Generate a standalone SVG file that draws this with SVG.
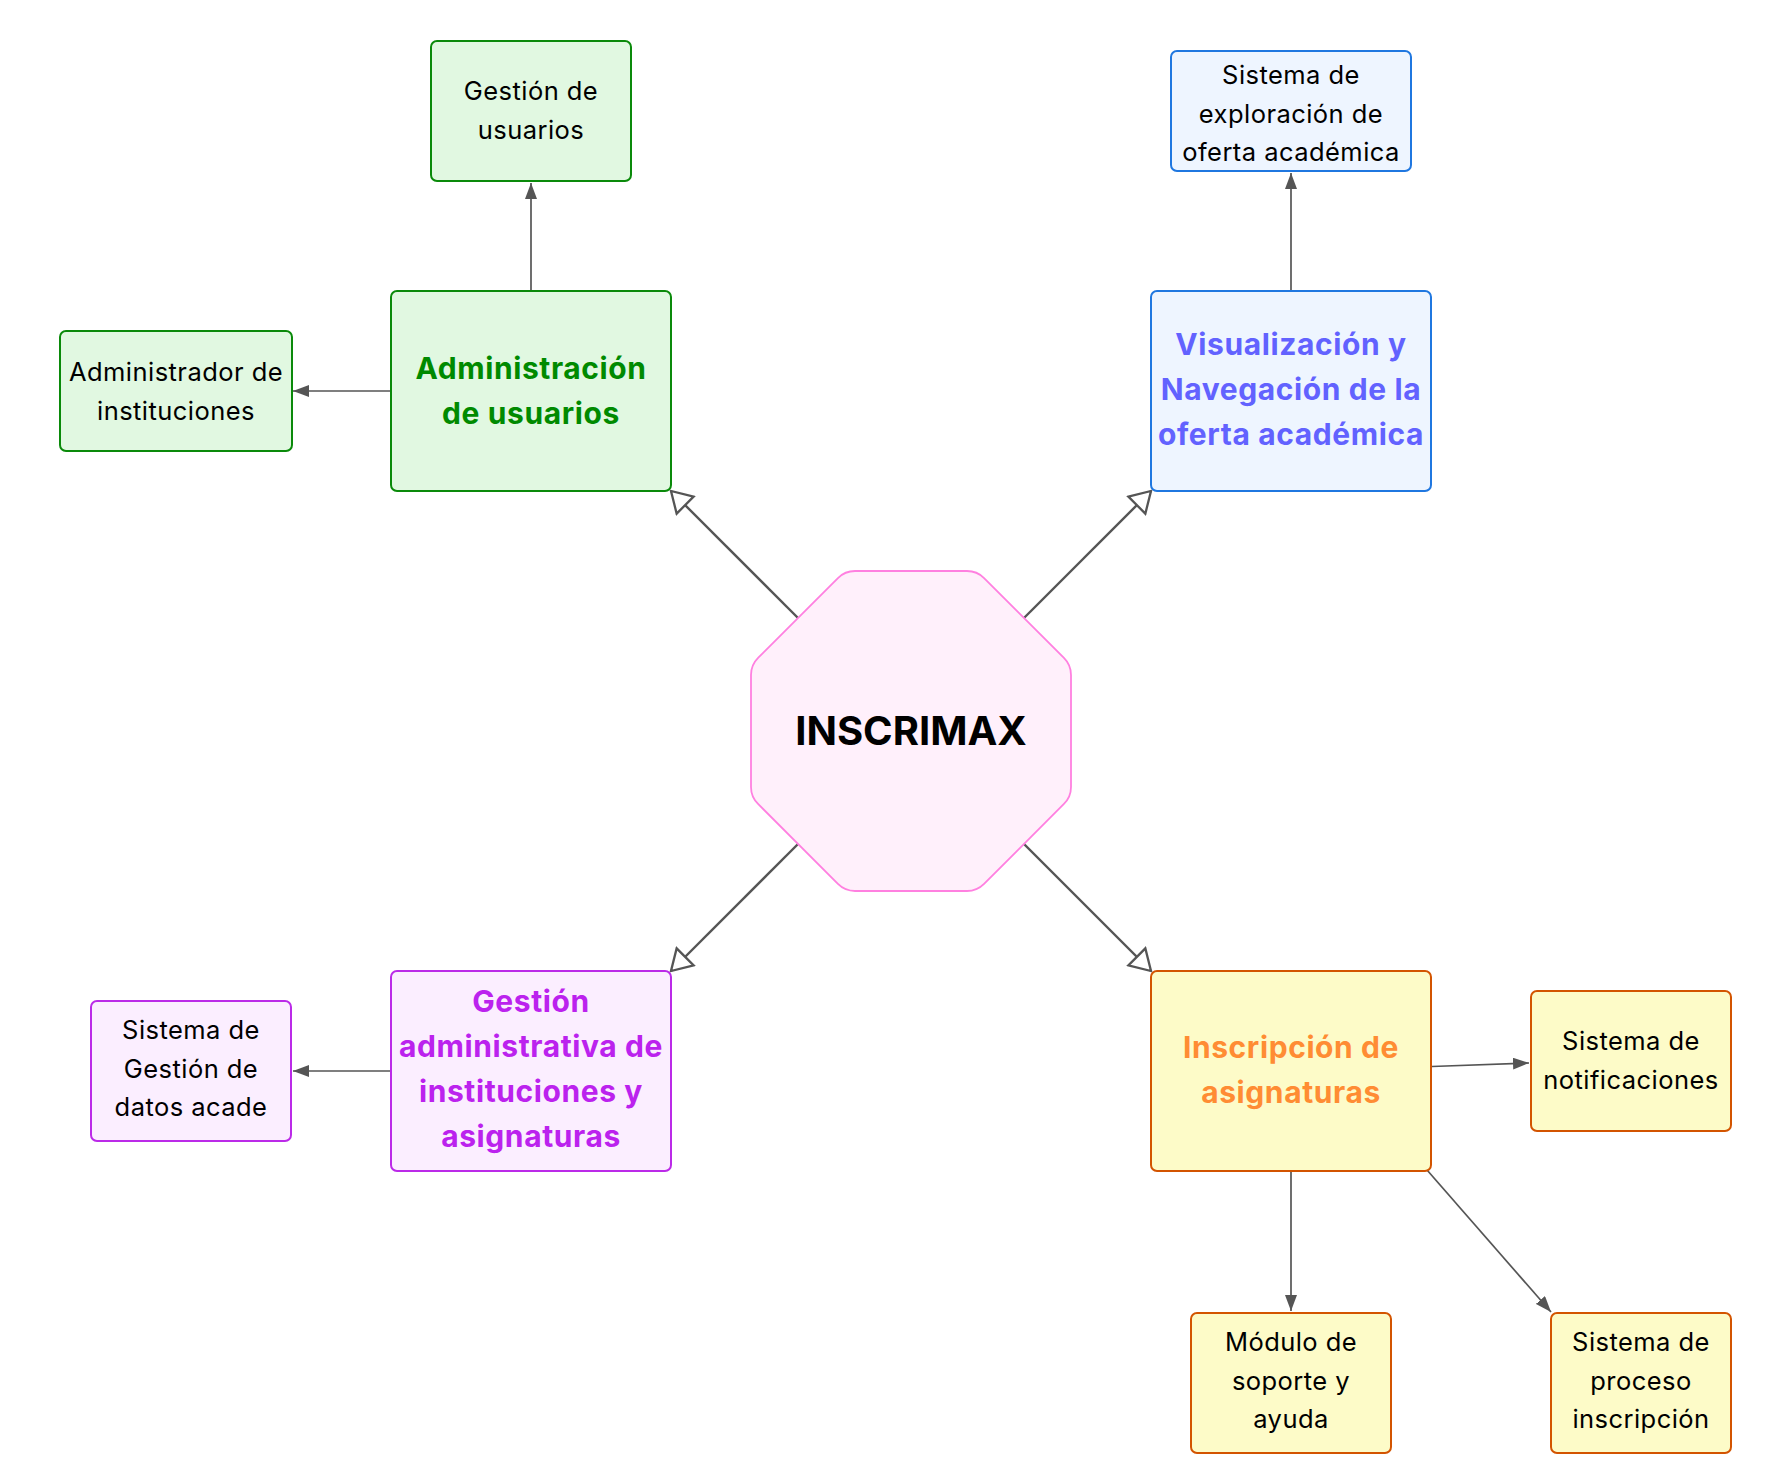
<svg xmlns="http://www.w3.org/2000/svg" width="1776" height="1484" viewBox="0 0 1776 1484">
<style>
text{font-family:Inter,"Noto Sans","Liberation Sans",sans-serif;text-anchor:middle}
.r{font-size:25.5px;letter-spacing:0.45px;fill:#000}
.b{font-size:30px;font-weight:700;letter-spacing:0.6px}
.g rect{fill:#e1f8e1;stroke:#0a8a0a;stroke-width:2}
.bl rect{fill:#eef5ff;stroke:#1f77e0;stroke-width:2}
.p rect{fill:#fbeeff;stroke:#bb2ae8;stroke-width:2}
.o rect{fill:#fdfbc8;stroke:#d35400;stroke-width:2}
.gt{fill:#008a00}.bt{fill:#6262ff}.pt{fill:#bb22ee}.ot{fill:#ff8c33}
.c line{stroke:#555;stroke-width:1.7;fill:none}
.c line.h{stroke-width:2.4;marker-end:url(#hol)}
.c line.s{marker-end:url(#sol)}
</style>
<defs>
<marker id="sol" viewBox="0 0 16 12" refX="16" refY="6" markerWidth="16" markerHeight="12" markerUnits="userSpaceOnUse" orient="auto"><path d="M0,0 L16,6 L0,12 Z" fill="#555"/></marker>
<marker id="hol" viewBox="0 0 24 28" refX="22" refY="14" markerWidth="24" markerHeight="28" markerUnits="userSpaceOnUse" orient="auto"><path d="M2,2 L22,14 L2,26 Z" fill="#fff" stroke="#555" stroke-width="2.3" stroke-linejoin="miter"/></marker>
</defs>
<rect width="1776" height="1484" fill="#fff"/>
<g class="c" id="connectors">
<line class="h" x1="798" y1="618" x2="671" y2="491"/>
<line class="h" x1="1024" y1="618" x2="1151" y2="491"/>
<line class="h" x1="798" y1="844" x2="671" y2="971"/>
<line class="h" x1="1024" y1="844" x2="1151" y2="971"/>
<line class="s" x1="531" y1="291" x2="531" y2="183"/>
<line class="s" x1="391" y1="391" x2="293" y2="391"/>
<line class="s" x1="1291" y1="291" x2="1291" y2="173"/>
<line class="s" x1="391" y1="1071" x2="293" y2="1071"/>
<line class="s" x1="1432" y1="1066.5" x2="1529" y2="1063"/>
<line class="s" x1="1291" y1="1171" x2="1291" y2="1311"/>
<line class="s" x1="1427" y1="1170" x2="1551" y2="1312"/>
</g>
<g id="inscrimax">
<path d="M855,571 L967,571 Q977,571 984.07,578.07 L1063.93,657.93 Q1071,665 1071,675 L1071,787 Q1071,797 1063.93,803.93 L984.07,883.93 Q977,891 967,891 L855,891 Q845,891 837.93,883.93 L758.07,803.93 Q751,797 751,787 L751,675 Q751,665 758.07,657.93 L837.93,578.07 Q845,571 855,571 Z" fill="#fff0fb" stroke="#ff80e0" stroke-width="1.8"/>
<text x="911" y="745" style="font-size:40px;font-weight:700;fill:#000">INSCRIMAX</text>
</g>
<g id="admin" class="g">
<rect x="391" y="291" width="280" height="200" rx="6"/>
<text class="b gt" x="531" y="379">Administración</text>
<text class="b gt" x="531" y="424">de usuarios</text>
</g>
<g id="gestion-usuarios" class="g">
<rect x="431" y="41" width="200" height="140" rx="6"/>
<text class="r" x="531" y="100">Gestión de</text>
<text class="r" x="531" y="138.5">usuarios</text>
</g>
<g id="admin-inst" class="g">
<rect x="60" y="331" width="232" height="120" rx="6"/>
<text class="r" x="176" y="381">Administrador de</text>
<text class="r" x="176" y="419.5">instituciones</text>
</g>
<g id="visualizacion" class="bl">
<rect x="1151" y="291" width="280" height="200" rx="6"/>
<text class="b bt" x="1291" y="355">Visualización y</text>
<text class="b bt" x="1291" y="400">Navegación de la</text>
<text class="b bt" x="1291" y="445">oferta académica</text>
</g>
<g id="exploracion" class="bl">
<rect x="1171" y="51" width="240" height="120" rx="6"/>
<text class="r" x="1291" y="84">Sistema de</text>
<text class="r" x="1291" y="122.5">exploración de</text>
<text class="r" x="1291" y="161">oferta académica</text>
</g>
<g id="gestion-admin" class="p">
<rect x="391" y="971" width="280" height="200" rx="6"/>
<text class="b pt" x="531" y="1012">Gestión</text>
<text class="b pt" x="531" y="1057">administrativa de</text>
<text class="b pt" x="531" y="1102">instituciones y</text>
<text class="b pt" x="531" y="1147">asignaturas</text>
</g>
<g id="datos" class="p">
<rect x="91" y="1001" width="200" height="140" rx="6"/>
<text class="r" x="191" y="1039">Sistema de</text>
<text class="r" x="191" y="1077.5">Gestión de</text>
<text class="r" x="191" y="1116">datos acade</text>
</g>
<g id="inscripcion" class="o">
<rect x="1151" y="971" width="280" height="200" rx="6"/>
<text class="b ot" x="1291" y="1058">Inscripción de</text>
<text class="b ot" x="1291" y="1103">asignaturas</text>
</g>
<g id="notificaciones" class="o">
<rect x="1531" y="991" width="200" height="140" rx="6"/>
<text class="r" x="1631" y="1050">Sistema de</text>
<text class="r" x="1631" y="1088.5">notificaciones</text>
</g>
<g id="soporte" class="o">
<rect x="1191" y="1313" width="200" height="140" rx="6"/>
<text class="r" x="1291" y="1351">Módulo de</text>
<text class="r" x="1291" y="1389.5">soporte y</text>
<text class="r" x="1291" y="1428">ayuda</text>
</g>
<g id="proceso" class="o">
<rect x="1551" y="1313" width="180" height="140" rx="6"/>
<text class="r" x="1641" y="1351">Sistema de</text>
<text class="r" x="1641" y="1389.5">proceso</text>
<text class="r" x="1641" y="1428">inscripción</text>
</g>
</svg>
